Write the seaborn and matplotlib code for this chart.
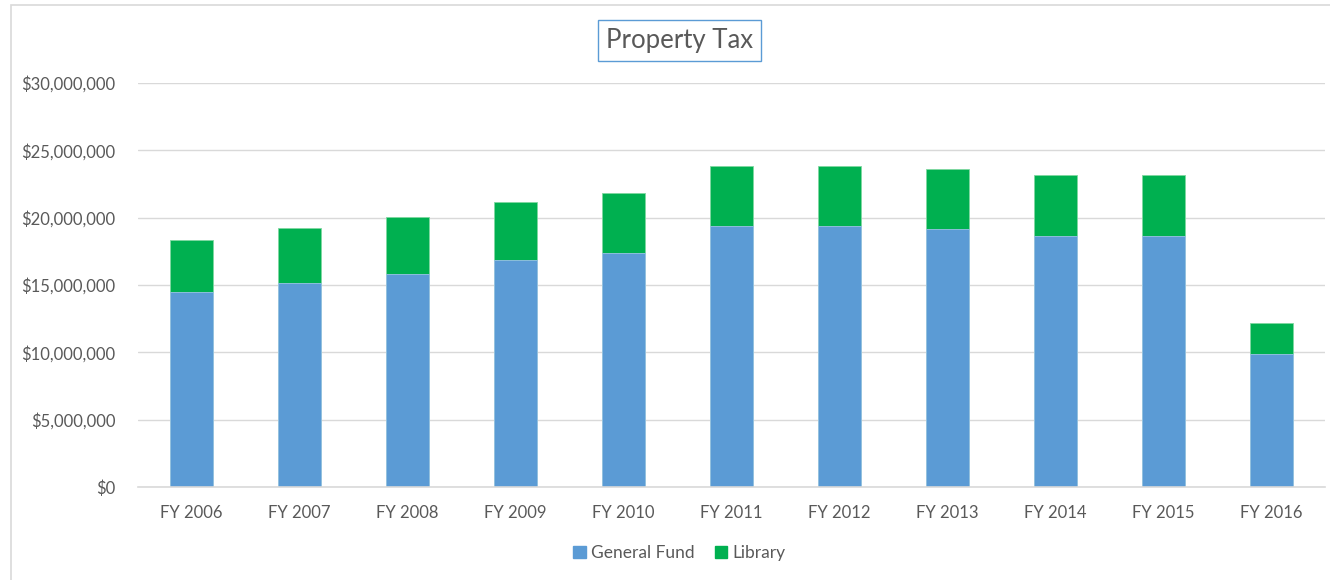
import numpy as np
import pandas as pd
import seaborn as sns
import matplotlib.pyplot as plt
from matplotlib.patches import Rectangle
from matplotlib.ticker import FuncFormatter

# Values (dollars, millions)
years = ["FY 2006", "FY 2007", "FY 2008", "FY 2009", "FY 2010", "FY 2011",
         "FY 2012", "FY 2013", "FY 2014", "FY 2015", "FY 2016"]
general_fund = [14.48, 15.17, 15.82, 16.86, 17.40, 19.36, 19.36, 19.14, 18.64, 18.64, 9.88]
library = [3.86, 4.06, 4.23, 4.30, 4.45, 4.50, 4.50, 4.47, 4.51, 4.51, 2.32]

df = pd.DataFrame({"Year": years,
                   "General Fund": np.array(general_fund) * 1e6,
                   "Library": np.array(library) * 1e6})
df["Total"] = df["General Fund"] + df["Library"]

blue = "#5B9BD5"
green = "#00B050"
grey_text = "#595959"
grid_col = "#D9D9D9"

sns.set_style("white")
plt.rcParams["font.family"] = ["Lato", "DejaVu Sans"]

fig = plt.figure(figsize=(13.3, 5.8), dpi=100)
ax = fig.add_axes([0.1035, 0.160, 0.893, 0.697])

# stacked bars: total (green) underneath, general fund (blue) on top of it
sns.barplot(data=df, x="Year", y="Total", color=green, width=0.4,
            edgecolor="#7FD8A0", linewidth=0.6, ax=ax, saturation=1)
sns.barplot(data=df, x="Year", y="General Fund", color=blue, width=0.4,
            edgecolor="#9CC3E6", linewidth=0.6, ax=ax, saturation=1)

ax.set_ylim(0, 30e6)
ax.set_xlim(-0.5, len(years) - 0.5)
ax.set_yticks(np.arange(0, 30e6 + 1, 5e6))
ax.yaxis.set_major_formatter(FuncFormatter(lambda v, p: f"${v:,.0f}"))
ax.grid(axis="y", color=grid_col, linewidth=1)
ax.set_axisbelow(True)
for s in ["top", "right", "left"]:
    ax.spines[s].set_visible(False)
ax.spines["bottom"].set_color(grid_col)
ax.spines["bottom"].set_linewidth(1.2)
ax.tick_params(axis="both", length=0, labelsize=12, colors=grey_text)
ax.tick_params(axis="y", pad=16)
ax.tick_params(axis="x", pad=13)
ax.set_xlabel("")
ax.set_ylabel("")

fig.text(0.511, 0.930, "Property Tax", ha="center", va="center",
         fontsize=18.5, color=grey_text,
         bbox=dict(boxstyle="square,pad=0.3", facecolor="white",
                   edgecolor=blue, linewidth=1))

handles = [Rectangle((0, 0), 1, 1, color=blue), Rectangle((0, 0), 1, 1, color=green)]
fig.legend(handles, ["General Fund", "Library"], loc="center",
           bbox_to_anchor=(0.511, 0.046), ncol=2, frameon=False,
           fontsize=12.5, labelcolor=grey_text, handlelength=0.7,
           handleheight=0.7, handletextpad=0.3, columnspacing=1.2)

# outer chart frame
fig.patches.append(Rectangle((0.0085, -0.05), 1.1, 1.041,
                             transform=fig.transFigure, fill=False,
                             edgecolor=grid_col, linewidth=1.2))

fig.savefig("out.png", dpi=100, facecolor="white")
